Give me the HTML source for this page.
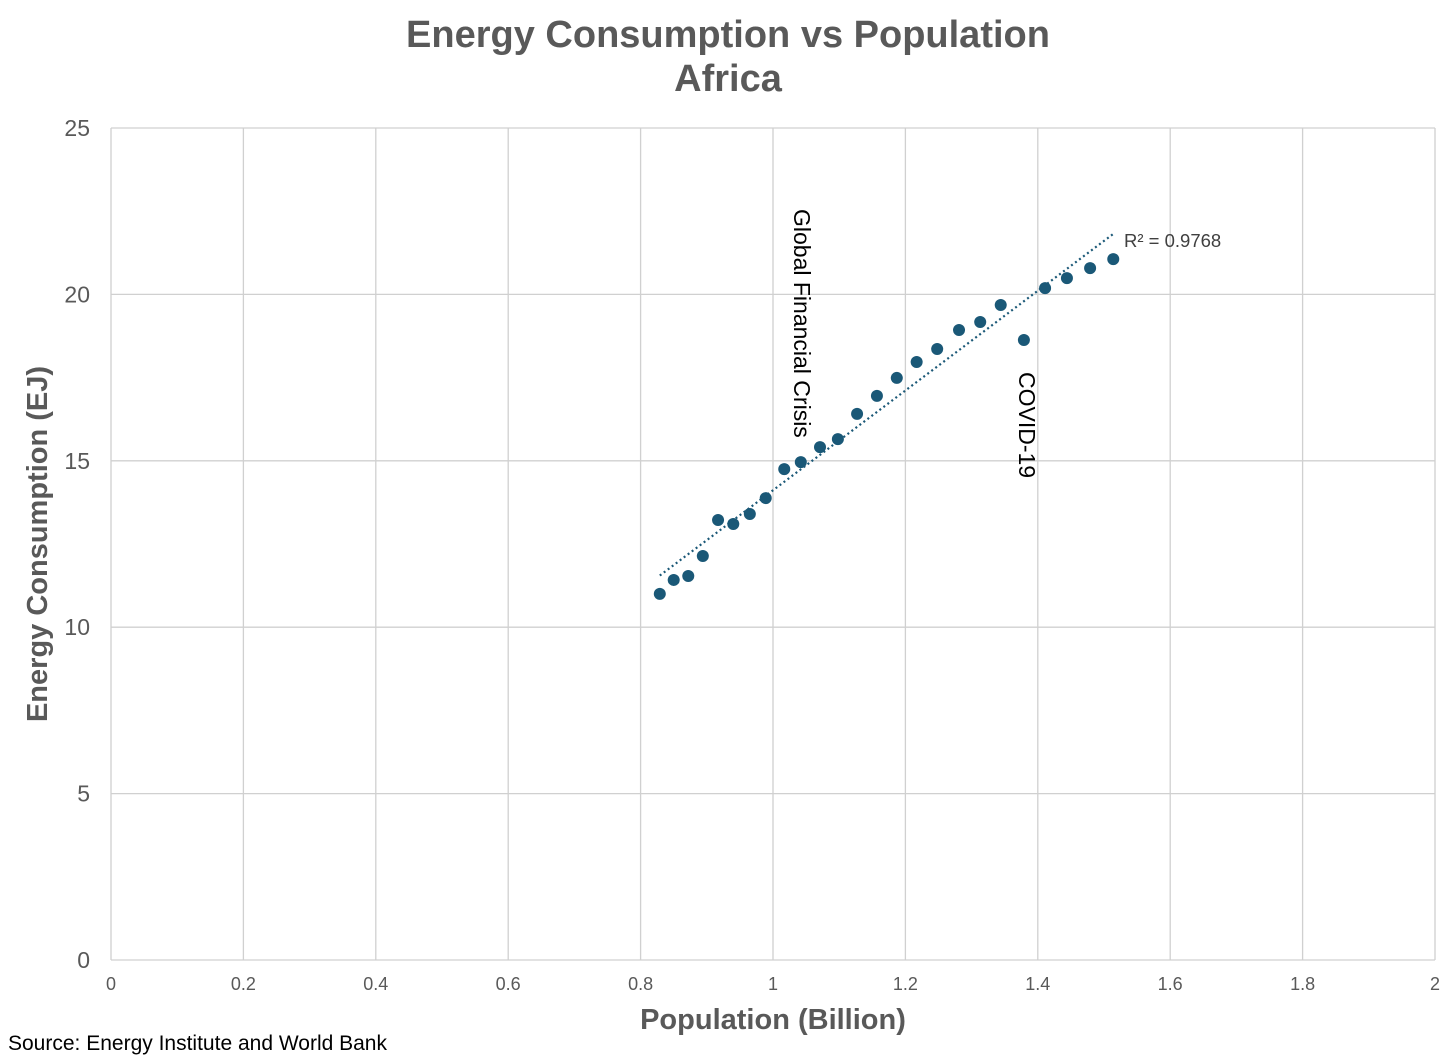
<!DOCTYPE html>
<html><head><meta charset="utf-8"><style>
body{margin:0;background:#fff;}
svg{display:block;font-family:"Liberation Sans",Arial,sans-serif;}
</style></head><body>
<svg id="chart" width="1456" height="1059" viewBox="0 0 1456 1059">
<text x="728" y="47" text-anchor="middle" font-size="38" font-weight="bold" fill="#595959">Energy Consumption vs Population</text>
<text x="728" y="91" text-anchor="middle" font-size="38" font-weight="bold" fill="#595959">Africa</text>
<g id="grid"></g><g id="ticks"></g><g id="trend"></g><g id="points"></g>
<text x="773" y="1029" text-anchor="middle" font-size="29" font-weight="bold" fill="#595959">Population (Billion)</text>
<text transform="translate(47,544) rotate(-90)" text-anchor="middle" font-size="29" font-weight="bold" fill="#595959">Energy Consumption (EJ)</text>
<text transform="translate(794,209) rotate(90)" font-size="23" fill="#000">Global Financial Crisis</text>
<text transform="translate(1019,372) rotate(90)" font-size="23" fill="#000">COVID-19</text>
<text x="1124" y="247" font-size="18.5" fill="#404040">R² = 0.9768</text>
<text x="8" y="1050" font-size="21" fill="#000">Source: Energy Institute and World Bank</text>
</svg>
<script>
const population=[0.829,0.850,0.872,0.894,0.917,0.940,0.965,0.989,1.017,1.042,1.071,1.098,1.127,1.157,1.187,1.217,1.248,1.281,1.313,1.344,1.379,1.411,1.444,1.479,1.514];
const energy=[11.0,11.42,11.54,12.14,13.22,13.10,13.40,13.88,14.75,14.96,15.41,15.65,16.41,16.95,17.49,17.97,18.36,18.93,19.17,19.68,18.63,20.19,20.49,20.79,21.06];
const xTicks=[0,0.2,0.4,0.6,0.8,1,1.2,1.4,1.6,1.8,2];
const yTicks=[0,5,10,15,20,25];
const NS="http://www.w3.org/2000/svg";
const X0=111,X1=1435,Y0=960,Y1=128;
const sx=v=>X0+(v-0)/(2-0)*(X1-X0);
const sy=v=>Y0-(v-0)/(25-0)*(Y0-Y1);
function mk(tag,attrs,parent){const e=document.createElementNS(NS,tag);for(const k in attrs)e.setAttribute(k,attrs[k]);document.getElementById(parent).appendChild(e);return e;}
xTicks.forEach(t=>{
 const l=mk('line',{x1:sx(t),x2:sx(t),y1:Y1,y2:Y0,stroke:'#d0d0d0','stroke-width':1.3},'grid');
 
 
 const tx=mk('text',{x:sx(t),y:990,'text-anchor':'middle','font-size':18,fill:'#595959'},'ticks');
 tx.textContent=t;
 
 
});
yTicks.forEach(t=>{
 const l=mk('line',{x1:X0,x2:X1,y1:sy(t),y2:sy(t),stroke:'#d0d0d0','stroke-width':1.3},'grid');
 
 
 const tx=mk('text',{x:90,y:sy(t)+8,'text-anchor':'end','font-size':23,fill:'#595959'},'ticks');
 tx.textContent=t;
 
 
});
const n=population.length;
const mx=population.reduce((a,b)=>a+b)/n,my=energy.reduce((a,b)=>a+b)/n;
let sxy=0,sxx=0;for(let i=0;i<n;i++){sxy+=(population[i]-mx)*(energy[i]-my);sxx+=(population[i]-mx)**2;}
const slope=sxy/sxx,icpt=my-slope*mx;
const xa=Math.min(...population),xb=Math.max(...population);
const tl=mk('line',{x1:sx(xa),y1:sy(slope*xa+icpt),x2:sx(xb),y2:sy(slope*xb+icpt),stroke:'#1a5877','stroke-width':2.2,'stroke-dasharray':'2 3'},'trend');


for(let i=0;i<n;i++){
 const c=mk('circle',{cx:sx(population[i]),cy:sy(energy[i]),r:6,fill:'#1a5877'},'points');
 
 
}
</script>
</body></html>
